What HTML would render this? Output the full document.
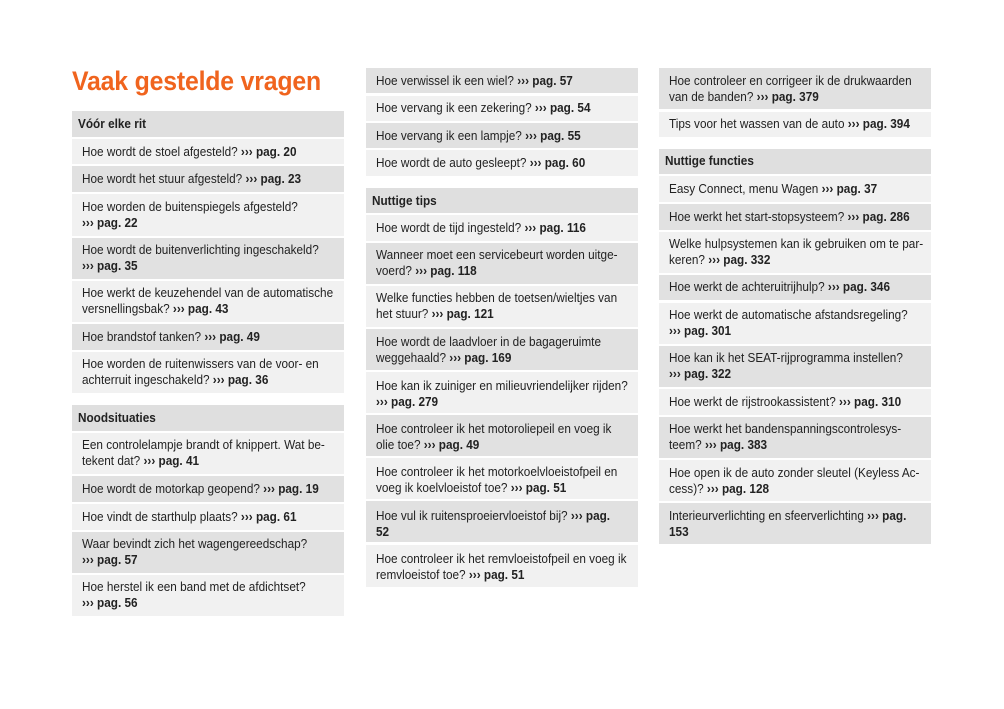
<!DOCTYPE html>
<html><head><meta charset="utf-8"><style>
body{margin:0;width:1004px;height:709px;background:#fff;position:relative;overflow:hidden;font-family:"Liberation Sans",sans-serif;color:#222}
.t{position:absolute;left:72px;top:66px;font-size:27px;font-weight:bold;color:#f0641e;transform:scaleX(0.92);transform-origin:left top;white-space:nowrap;letter-spacing:-0.2px}
.r{position:absolute;width:272px;box-sizing:border-box;padding-left:10px;font-size:13px;line-height:16px;white-space:nowrap}
.r span{display:inline-block;transform:scaleX(0.905);transform-origin:left center}
.l{background:#f1f1f1}.d{background:#e1e1e1}
.h{background:#dfdfdf;padding-left:6px;font-weight:bold}
b{font-weight:bold}
</style></head><body>
<div class="t">Vaak gestelde vragen</div>

<div class="r h" style="left:72px;top:111px;height:26px;padding-top:5px"><span>Vóór elke rit</span></div>
<div class="r l" style="left:72px;top:139px;height:25px;padding-top:5px"><span>Hoe wordt de stoel afgesteld? <b>››› pag. 20</b></span></div>
<div class="r d" style="left:72px;top:166px;height:26px;padding-top:5px"><span>Hoe wordt het stuur afgesteld? <b>››› pag. 23</b></span></div>
<div class="r l" style="left:72px;top:194px;height:42px;padding-top:5px"><span>Hoe worden de buitenspiegels afgesteld?<br><b>››› pag. 22</b></span></div>
<div class="r d" style="left:72px;top:238px;height:41px;padding-top:4px"><span>Hoe wordt de buitenverlichting ingeschakeld?<br><b>››› pag. 35</b></span></div>
<div class="r l" style="left:72px;top:281px;height:41px;padding-top:4px"><span>Hoe werkt de keuzehendel van de automatische<br>versnellingsbak? <b>››› pag. 43</b></span></div>
<div class="r d" style="left:72px;top:324px;height:26px;padding-top:5px"><span>Hoe brandstof tanken? <b>››› pag. 49</b></span></div>
<div class="r l" style="left:72px;top:352px;height:41px;padding-top:4px"><span>Hoe worden de ruitenwissers van de voor- en<br>achterruit ingeschakeld? <b>››› pag. 36</b></span></div>
<div class="r h" style="left:72px;top:405px;height:26px;padding-top:5px"><span>Noodsituaties</span></div>
<div class="r l" style="left:72px;top:433px;height:41px;padding-top:4px"><span>Een controlelampje brandt of knippert. Wat be-<br>tekent dat? <b>››› pag. 41</b></span></div>
<div class="r d" style="left:72px;top:476px;height:26px;padding-top:5px"><span>Hoe wordt de motorkap geopend? <b>››› pag. 19</b></span></div>
<div class="r l" style="left:72px;top:504px;height:26px;padding-top:5px"><span>Hoe vindt de starthulp plaats? <b>››› pag. 61</b></span></div>
<div class="r d" style="left:72px;top:532px;height:41px;padding-top:4px"><span>Waar bevindt zich het wagengereedschap?<br><b>››› pag. 57</b></span></div>
<div class="r l" style="left:72px;top:575px;height:41px;padding-top:4px"><span>Hoe herstel ik een band met de afdichtset?<br><b>››› pag. 56</b></span></div>

<div class="r d" style="left:366px;top:68px;height:25px;padding-top:5px"><span>Hoe verwissel ik een wiel? <b>››› pag. 57</b></span></div>
<div class="r l" style="left:366px;top:96px;height:25px;padding-top:4px"><span>Hoe vervang ik een zekering? <b>››› pag. 54</b></span></div>
<div class="r d" style="left:366px;top:123px;height:25px;padding-top:5px"><span>Hoe vervang ik een lampje? <b>››› pag. 55</b></span></div>
<div class="r l" style="left:366px;top:150px;height:26px;padding-top:5px"><span>Hoe wordt de auto gesleept? <b>››› pag. 60</b></span></div>
<div class="r h" style="left:366px;top:188px;height:25px;padding-top:5px"><span>Nuttige tips</span></div>
<div class="r l" style="left:366px;top:215px;height:26px;padding-top:5px"><span>Hoe wordt de tijd ingesteld? <b>››› pag. 116</b></span></div>
<div class="r d" style="left:366px;top:243px;height:41px;padding-top:4px"><span>Wanneer moet een servicebeurt worden uitge-<br>voerd? <b>››› pag. 118</b></span></div>
<div class="r l" style="left:366px;top:286px;height:41px;padding-top:4px"><span>Welke functies hebben de toetsen/wieltjes van<br>het stuur? <b>››› pag. 121</b></span></div>
<div class="r d" style="left:366px;top:329px;height:41px;padding-top:5px"><span>Hoe wordt de laadvloer in de bagageruimte<br>weggehaald? <b>››› pag. 169</b></span></div>
<div class="r l" style="left:366px;top:372px;height:41px;padding-top:6px"><span>Hoe kan ik zuiniger en milieuvriendelijker rijden?<br><b>››› pag. 279</b></span></div>
<div class="r d" style="left:366px;top:415px;height:41px;padding-top:6px"><span>Hoe controleer ik het motoroliepeil en voeg ik<br>olie toe? <b>››› pag. 49</b></span></div>
<div class="r l" style="left:366px;top:458px;height:41px;padding-top:6px"><span>Hoe controleer ik het motorkoelvloeistofpeil en<br>voeg ik koelvloeistof toe? <b>››› pag. 51</b></span></div>
<div class="r d" style="left:366px;top:501px;height:41px;padding-top:7px"><span>Hoe vul ik ruitensproeiervloeistof bij? <b>››› pag.</b><br><b>52</b></span></div>
<div class="r l" style="left:366px;top:545px;height:42px;padding-top:6px"><span>Hoe controleer ik het remvloeistofpeil en voeg ik<br>remvloeistof toe? <b>››› pag. 51</b></span></div>

<div class="r d" style="left:659px;top:68px;height:41px;padding-top:5px"><span>Hoe controleer en corrigeer ik de drukwaarden<br>van de banden? <b>››› pag. 379</b></span></div>
<div class="r l" style="left:659px;top:112px;height:25px;padding-top:4px"><span>Tips voor het wassen van de auto <b>››› pag. 394</b></span></div>
<div class="r h" style="left:659px;top:149px;height:25px;padding-top:4px"><span>Nuttige functies</span></div>
<div class="r l" style="left:659px;top:176px;height:26px;padding-top:5px"><span>Easy Connect, menu Wagen <b>››› pag. 37</b></span></div>
<div class="r d" style="left:659px;top:204px;height:26px;padding-top:5px"><span>Hoe werkt het start-stopsysteem? <b>››› pag. 286</b></span></div>
<div class="r l" style="left:659px;top:232px;height:41px;padding-top:4px"><span>Welke hulpsystemen kan ik gebruiken om te par-<br>keren? <b>››› pag. 332</b></span></div>
<div class="r d" style="left:659px;top:275px;height:25px;padding-top:4px"><span>Hoe werkt de achteruitrijhulp? <b>››› pag. 346</b></span></div>
<div class="r l" style="left:659px;top:303px;height:41px;padding-top:4px"><span>Hoe werkt de automatische afstandsregeling?<br><b>››› pag. 301</b></span></div>
<div class="r d" style="left:659px;top:346px;height:41px;padding-top:4px"><span>Hoe kan ik het SEAT-rijprogramma instellen?<br><b>››› pag. 322</b></span></div>
<div class="r l" style="left:659px;top:389px;height:26px;padding-top:5px"><span>Hoe werkt de rijstrookassistent? <b>››› pag. 310</b></span></div>
<div class="r d" style="left:659px;top:417px;height:41px;padding-top:4px"><span>Hoe werkt het bandenspanningscontrolesys-<br>teem? <b>››› pag. 383</b></span></div>
<div class="r l" style="left:659px;top:460px;height:41px;padding-top:5px"><span>Hoe open ik de auto zonder sleutel (Keyless Ac-<br>cess)? <b>››› pag. 128</b></span></div>
<div class="r d" style="left:659px;top:503px;height:41px;padding-top:5px"><span>Interieurverlichting en sfeerverlichting <b>››› pag.</b><br><b>153</b></span></div>
</body></html>
